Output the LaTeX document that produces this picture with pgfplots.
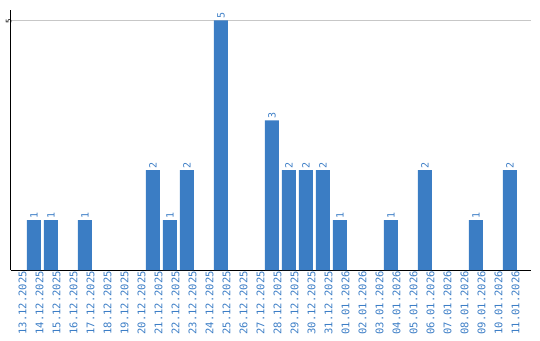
\documentclass[border=0pt]{standalone}
\usepackage{fontspec}
\setmainfont{DejaVu Sans}
\setmonofont{DejaVu Sans Mono}
\usepackage{pgfplots}
\pgfplotsset{compat=1.18}
\definecolor{barblue}{HTML}{3B7DC4}
\definecolor{txtblue}{HTML}{3D7EC6}
\begin{document}
\begin{tikzpicture}[x=1pt,y=1pt]
\path[use as bounding box] (-10.7pt,-70pt) rectangle (529.3pt,270pt);
\begin{axis}[
  at={(0pt,0pt)}, anchor=south west,
  scale only axis, width=520.3pt, height=260pt,
  xmin=-0.37, xmax=30.24, ymin=0, ymax=5.21,
  axis x line*=bottom, axis y line*=left,
  axis line style={black, line width=1pt},
  x axis line style={-}, y axis line style={-},
  xtick={0,...,29},
  xticklabels={13.12.2025,14.12.2025,15.12.2025,16.12.2025,17.12.2025,18.12.2025,19.12.2025,20.12.2025,21.12.2025,22.12.2025,23.12.2025,24.12.2025,25.12.2025,26.12.2025,27.12.2025,28.12.2025,29.12.2025,30.12.2025,31.12.2025,01.01.2026,02.01.2026,03.01.2026,04.01.2026,05.01.2026,06.01.2026,07.01.2026,08.01.2026,09.01.2026,10.01.2026,11.01.2026},
  xticklabel style={rotate=90, anchor=east, font=\ttfamily\fontsize{10.5}{11}\selectfont, text=txtblue, inner sep=1pt, yshift=-5.5pt},
  ytick={5},
  yticklabel style={rotate=90, anchor=south, font=\ttfamily\fontsize{7.5}{8}\selectfont, inner sep=1pt, xshift=-1pt, yshift=-2pt},
  /pgf/number format/assume math mode=true,
  major tick length=0pt,
  ymajorgrids, grid style={draw=black!22, line width=1pt},
  ybar, bar width=14pt,
  nodes near coords,
  every node near coord/.append style={rotate=90, anchor=west, font=\ttfamily\fontsize{10}{11}\selectfont, text=txtblue, inner sep=1.5pt},
  clip=false,
]
\addplot[fill=barblue, draw=none] coordinates {
 (1,1) (2,1) (4,1) (8,2) (9,1) (10,2) (12,5) (15,3) (16,2) (17,2) (18,2) (19,1) (22,1) (24,2) (27,1) (29,2)
};
\end{axis}
\end{tikzpicture}
\end{document}
